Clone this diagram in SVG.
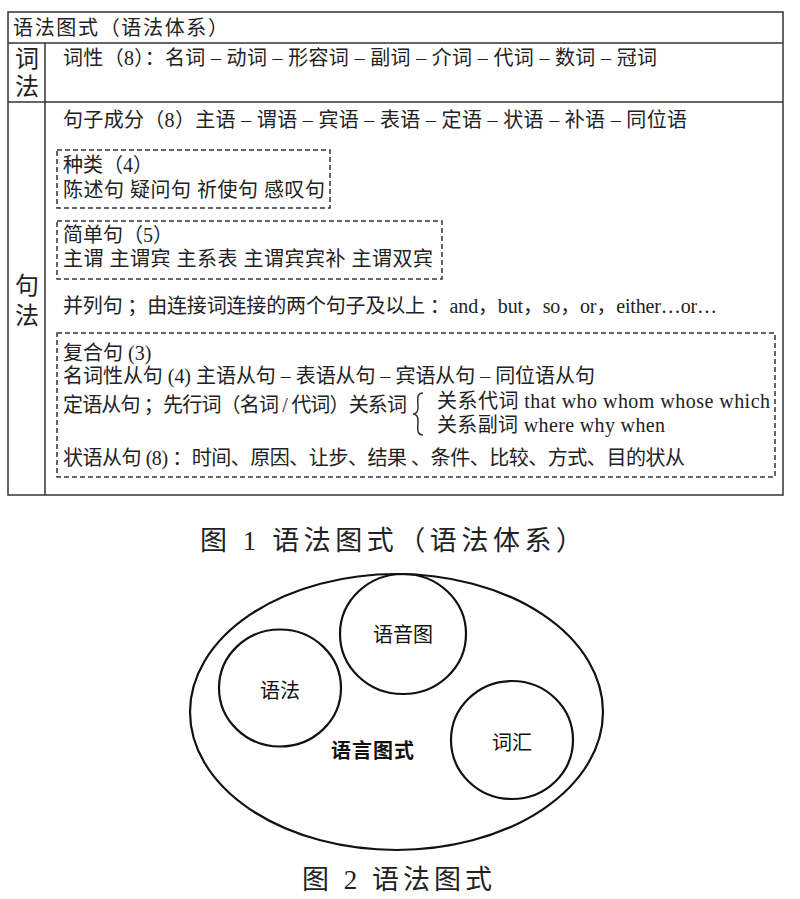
<svg xmlns="http://www.w3.org/2000/svg" width="800" height="899" viewBox="0 0 800 899">
<style>
  .t { font-family: "Liberation Serif", "Noto Sans CJK SC", serif; font-size: 20px; fill: #222; }
  .lbl { font-family: "Liberation Serif", "Noto Sans CJK SC", serif; font-size: 24px; fill: #222; text-anchor: middle; }
  .cap { font-family: "Liberation Serif", "Noto Sans CJK SC", serif; font-size: 27px; fill: #222; }
  .line { stroke: #333; stroke-width: 1.5; fill: none; }
  .dash { stroke: #333; stroke-width: 1.5; fill: none; stroke-dasharray: 5 3; }
  .circ { stroke: #111; stroke-width: 2.2; fill: none; }
  .ct { font-family: "Noto Sans CJK SC", "Liberation Sans", sans-serif; font-size: 20px; fill: #111; text-anchor: middle; }
</style>
<rect width="800" height="899" fill="#fff"/>

<g id="table">
  <rect x="8" y="12" width="775" height="483" class="line"/>
  <line x1="8" y1="43" x2="783" y2="43" class="line"/>
  <line x1="8" y1="102" x2="783" y2="102" class="line"/>
  <line x1="45" y1="43" x2="45" y2="495" class="line"/>
</g>

<g id="header">
  <text x="13" y="35" class="t" font-size="22" textLength="215">语法图式（语法体系）</text>
</g>

<g id="cifa">
  <text x="27" y="67" class="lbl" font-size="22">词</text>
  <text x="27" y="95" class="lbl" font-size="22">法</text>
  <text x="63" y="65" class="t" textLength="594">词性（8）：名词 – 动词 – 形容词 – 副词 – 介词 – 代词 – 数词 – 冠词</text>
</g>

<g id="jufa">
  <text x="27" y="294" class="lbl" font-size="25">句</text>
  <text x="27" y="324" class="lbl" font-size="25">法</text>
  <text x="63" y="127" class="t" textLength="624">句子成分（8）主语 – 谓语 – 宾语 – 表语 – 定语 – 状语 – 补语 – 同位语</text>
</g>

<g id="zhonglei">
  <rect x="57" y="150" width="273" height="58" class="dash"/>
  <text x="63" y="172" class="t">种类（4）</text>
  <text x="63" y="197" class="t" textLength="262">陈述句 疑问句 祈使句 感叹句</text>
</g>

<g id="jiandanju">
  <rect x="57" y="221" width="385" height="58" class="dash"/>
  <text x="63" y="242" class="t">简单句（5）</text>
  <text x="63" y="266" class="t" textLength="370">主谓 主谓宾 主系表 主谓宾宾补 主谓双宾</text>
</g>

<g id="binglieju">
  <text x="63" y="313" class="t" textLength="654">并列句 ；由连接词连接的两个句子及以上 ：and，but，so，or，either…or…</text>
</g>

<g id="fuheju">
  <rect x="57" y="333" width="718" height="144" class="dash"/>
  <text x="63" y="360" class="t">复合句 (3)</text>
  <text x="63" y="383" class="t" textLength="532">名词性从句 (4) 主语从句 – 表语从句 – 宾语从句 – 同位语从句</text>
  <text x="63" y="412" class="t" textLength="344">定语从句 ；先行词（名词 / 代词）关系词</text>
  <path d="M423,393 C416,393 418,400 418,407 C418,412 416,414 413,414 C416,414 418,416 418,421 C418,428 416,435 423,435" class="line"/>
  <text x="437" y="408" class="t" textLength="333">关系代词 that who whom whose which</text>
  <text x="437" y="432" class="t" textLength="228">关系副词 where why when</text>
  <text x="63" y="465" class="t" textLength="622">状语从句 (8) ：时间、原因、让步、结果 、条件、比较、方式、目的状从</text>
</g>

<g id="caption1">
  <text x="200" y="550" class="cap" textLength="383">图 1  语法图式（语法体系）</text>
</g>

<g id="outer">
  <ellipse cx="396.5" cy="712" rx="206.5" ry="138" class="circ"/>
  <text x="373" y="758" class="ct" font-weight="bold" font-size="23" letter-spacing="1">语言图式</text>
</g>
<g id="yuyintu">
  <ellipse cx="403" cy="634" rx="63" ry="60" class="circ"/>
  <text x="403" y="642" class="ct">语音图</text>
</g>
<g id="yufa">
  <ellipse cx="280" cy="688" rx="61" ry="58.5" class="circ"/>
  <text x="280" y="698" class="ct" font-size="22">语法</text>
</g>
<g id="cihui">
  <ellipse cx="512" cy="740" rx="61" ry="59" class="circ"/>
  <text x="512" y="750" class="ct" font-size="22">词汇</text>
</g>

<g id="caption2">
  <text x="302" y="889" class="cap" textLength="190">图 2 语法图式</text>
</g>
</svg>
